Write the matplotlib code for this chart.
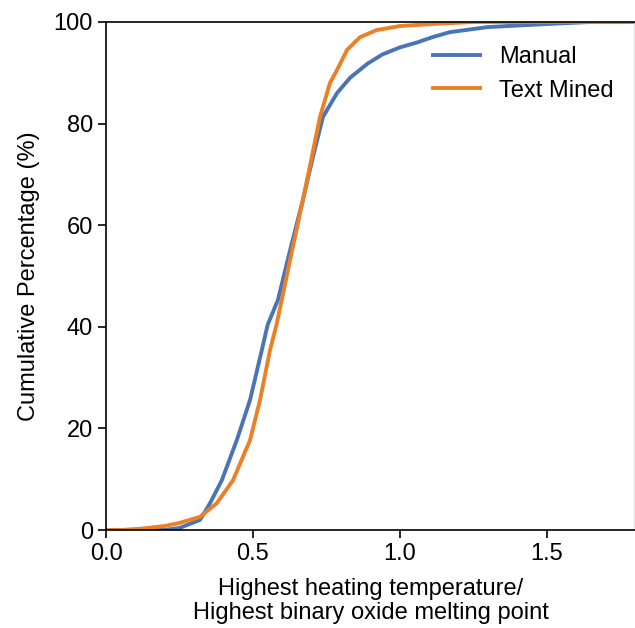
import matplotlib
matplotlib.use("Agg")
import matplotlib.pyplot as plt

plt.rcParams['font.family'] = ['Liberation Sans', 'DejaVu Sans']

manual_x = [0.0, 0.15, 0.21, 0.25, 0.32, 0.354, 0.394, 0.445, 0.49, 0.53, 0.55, 0.585,
            0.626, 0.67, 0.704, 0.738, 0.786, 0.83, 0.89, 0.94, 1.0, 1.06, 1.11, 1.17,
            1.3, 1.5, 1.65, 1.8]
manual_y = [0.0, 0.0, 0.1, 0.4, 2.0, 5.3, 9.8, 17.7, 25.6, 35.4, 40.4, 45.3,
            55.0, 65.0, 73.4, 81.3, 86.0, 89.0, 91.8, 93.6, 95.0, 96.0, 97.0, 98.0,
            99.0, 99.6, 100.0, 100.0]

mined_x = [0.0, 0.05, 0.126, 0.2, 0.25, 0.32, 0.377, 0.432, 0.49, 0.524, 0.558, 0.58, 0.598,
           0.633, 0.67, 0.70, 0.728, 0.762, 0.79, 0.82, 0.864, 0.92, 1.0, 1.11, 1.25, 1.8]
mined_y = [0.0, 0.0, 0.3, 0.8, 1.4, 2.6, 5.3, 9.8, 17.7, 25.6, 35.4, 40.4, 45.3,
           55.0, 65.0, 73.4, 81.3, 88.0, 91.0, 94.5, 97.0, 98.4, 99.2, 99.6, 100.0, 100.0]

fig = plt.figure(figsize=(6.35, 6.28), dpi=100)
ax = fig.add_axes([0.167, 0.156, 0.833, 0.809])
ax.plot(manual_x, manual_y, color='#4A74B6', lw=2.8, label='Manual')
ax.plot(mined_x, mined_y, color='#EC8026', lw=2.8, label='Text Mined')
ax.set_xlim(0, 1.8)
ax.set_ylim(0, 100)
ax.set_xticks([0.0, 0.5, 1.0, 1.5])
ax.set_xticklabels(['0.0', '0.5', '1.0', '1.5'])
ax.set_yticks([0, 20, 40, 60, 80, 100])
ax.tick_params(labelsize=17, length=6, width=1.2)
for s in ax.spines.values():
    s.set_linewidth(1.2)
ax.spines['right'].set_color('#dddddd')
ax.set_ylabel('Cumulative Percentage (%)', fontsize=17, labelpad=10)
ax.set_xlabel('Highest heating temperature/\nHighest binary oxide melting point',
              fontsize=17, labelpad=9, linespacing=1.15)
ax.legend(loc='upper right', frameon=False, fontsize=17, handlelength=2.0,
          bbox_to_anchor=(1.0, 0.995))
fig.savefig('out.png', dpi=100)
